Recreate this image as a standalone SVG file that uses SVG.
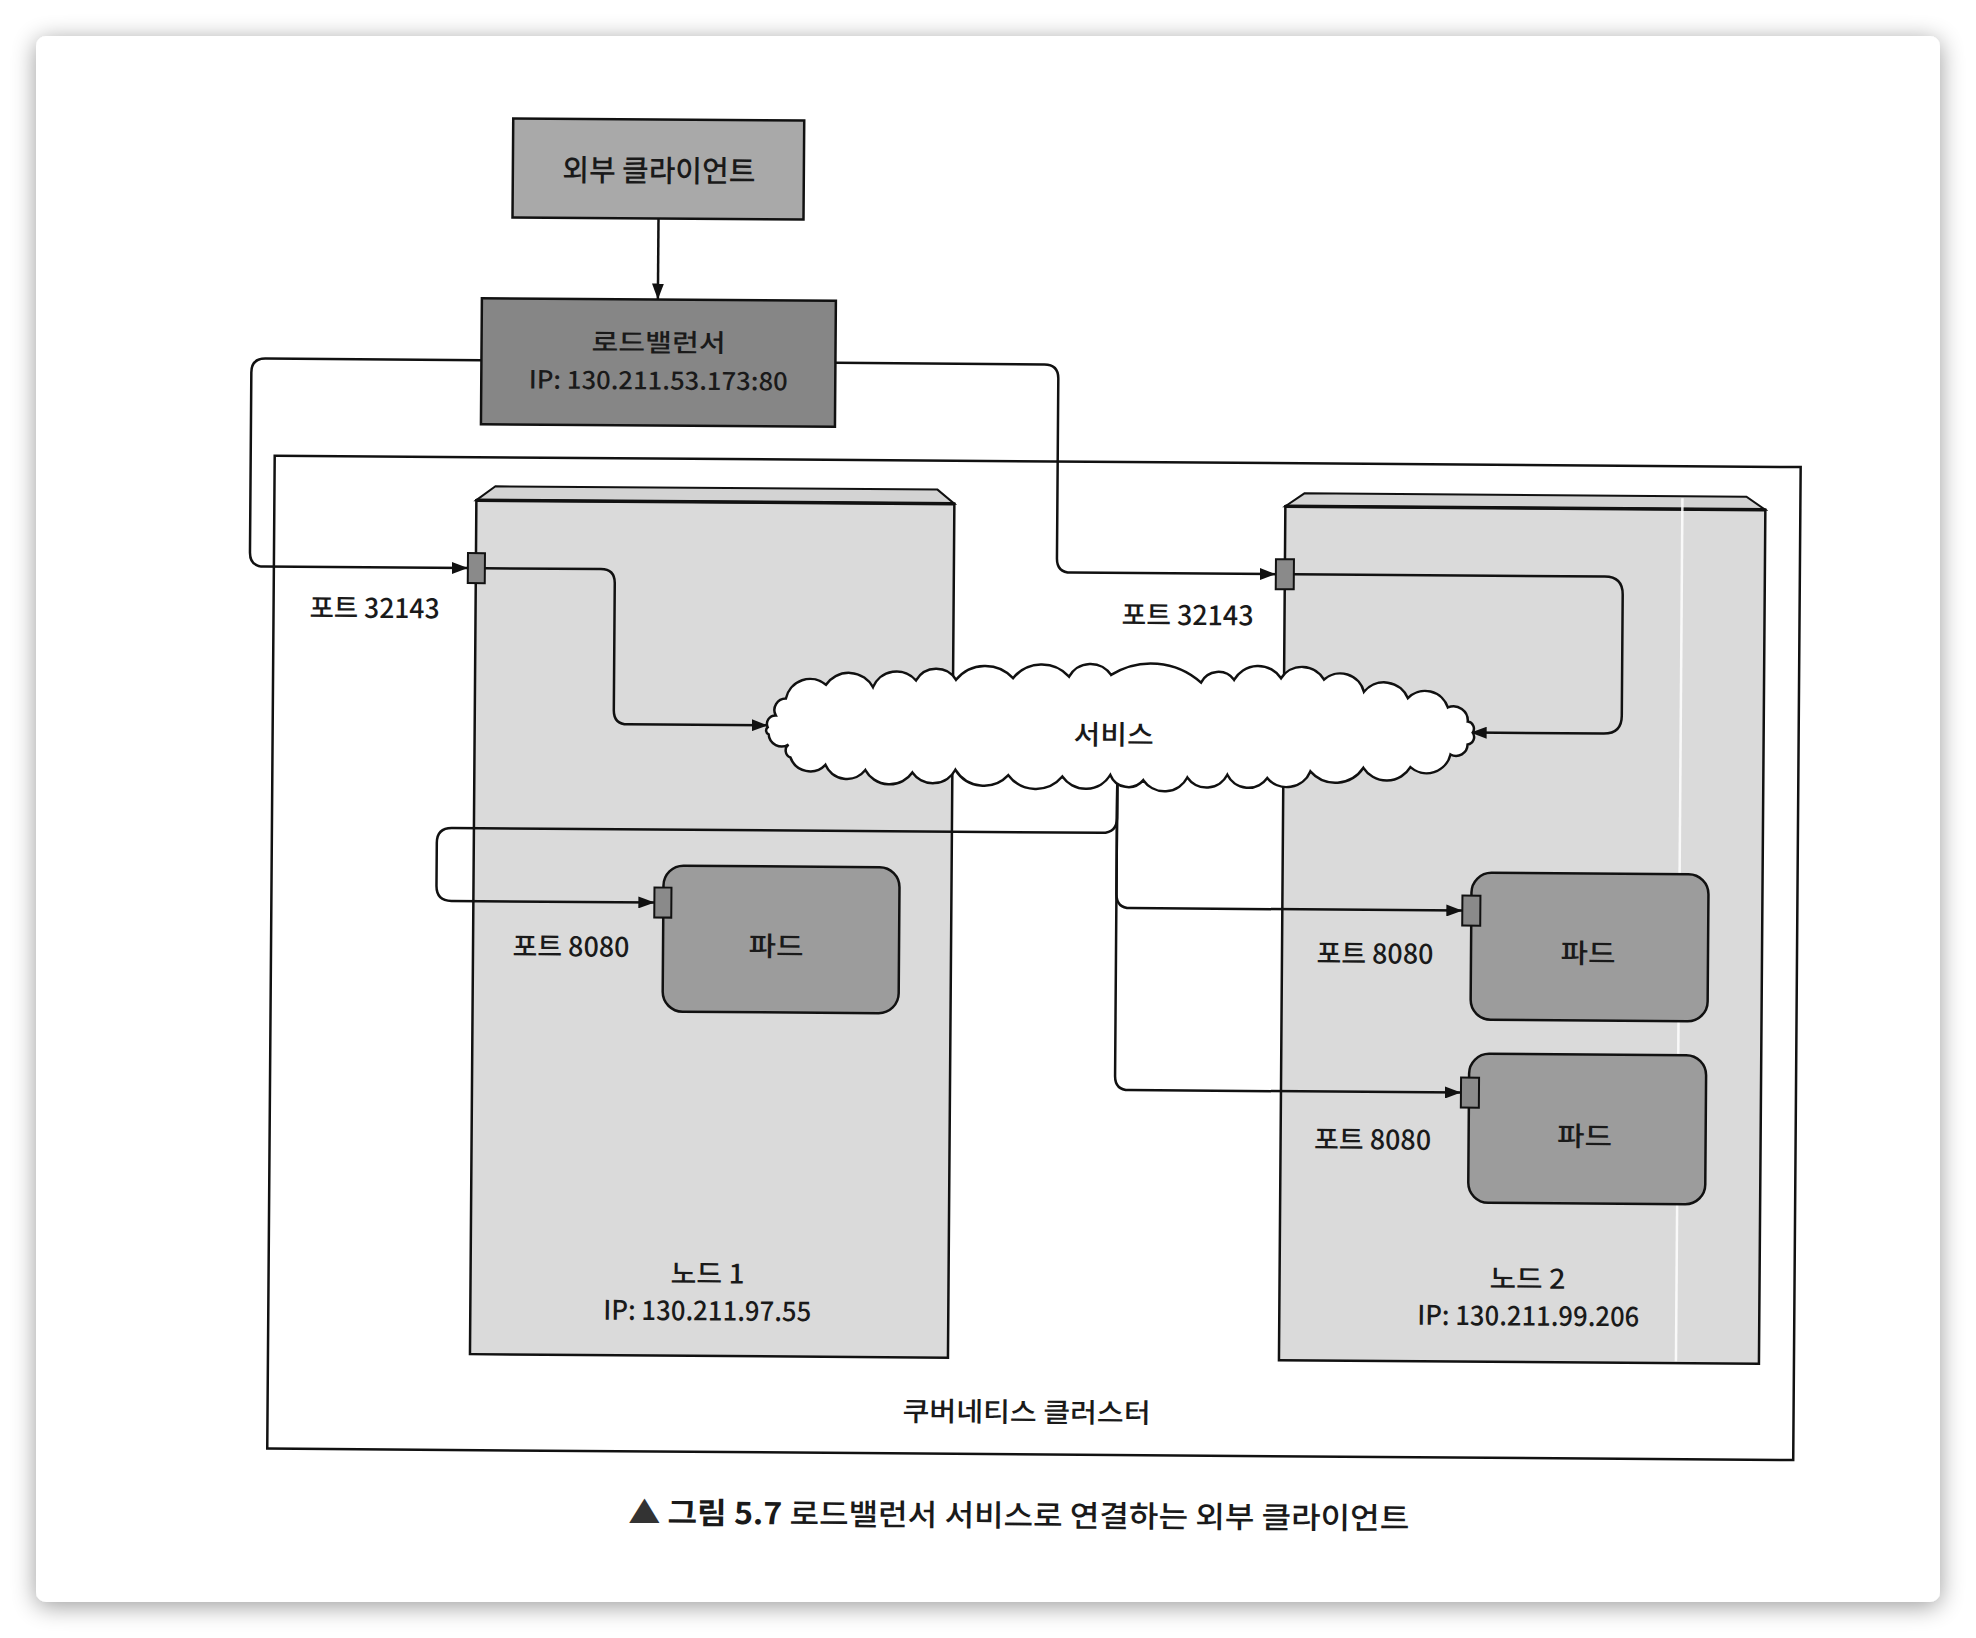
<svg xmlns="http://www.w3.org/2000/svg" width="1976" height="1638" viewBox="0 0 1976 1638">
<defs>
<filter id="shadow" x="-5%" y="-5%" width="110%" height="110%">
<feGaussianBlur in="SourceAlpha" stdDeviation="12"/>
<feOffset dy="4"/>
<feComponentTransfer><feFuncA type="linear" slope="0.4"/></feComponentTransfer>
<feMerge><feMergeNode/><feMergeNode in="SourceGraphic"/></feMerge>
</filter>
<marker id="arr" markerUnits="userSpaceOnUse" markerWidth="16" markerHeight="12" refX="16" refY="6" orient="auto"><path d="M0,0 L16,6 L0,12 z" fill="#111"/></marker>
</defs>
<style>
.t{font-family:"Noto Sans CJK KR","Noto Sans",sans-serif;fill:#1a1a1a;text-anchor:middle;dominant-baseline:central;font-size:27px;font-weight:500}
.ln{fill:none;stroke:#111;stroke-width:2.5}
.body{fill:#dadada;stroke:#111;stroke-width:2.5}
.bevel{fill:#d3d3d3;stroke:#111;stroke-width:2}
.pod{fill:#9c9c9c;stroke:#111;stroke-width:2.5}
.port{fill:#8a8a8a;stroke:#111;stroke-width:2}
.box{stroke:#111;stroke-width:2.5}
</style>
<rect width="1976" height="1638" fill="#ffffff"/>
<rect x="36" y="36" width="1904" height="1566" rx="10" fill="#ffffff" filter="url(#shadow)"/>
<g transform="rotate(0.43 988 819)">
<g id="cluster">
<rect x="272" y="461" width="1526" height="993" fill="none" stroke="#111" stroke-width="2.5"/>
<text class="t" x="1031" y="1410" textLength="248" lengthAdjust="spacingAndGlyphs">쿠버네티스 클러스터</text>
</g>
<g id="node1">
<polygon class="bevel" points="474,504 493,490 935,490 952,504"/>
<rect class="body" x="474" y="504" width="478" height="854"/>
<line x1="474" y1="504" x2="952" y2="504" stroke="#111" stroke-width="3.5"/>
<text class="t" x="711" y="1274" textLength="74" lengthAdjust="spacingAndGlyphs">노드 1</text>
<text class="t" x="711" y="1311" textLength="208" lengthAdjust="spacingAndGlyphs">IP: 130.211.97.55</text>
</g>
<g id="node2">
<polygon class="bevel" points="1283,504 1302,491 1744,491 1763,504"/>
<rect class="body" x="1283" y="504" width="480" height="854"/>
<line x1="1283" y1="504" x2="1763" y2="504" stroke="#111" stroke-width="3.5"/>
<line x1="1680" y1="493" x2="1680" y2="1356" stroke="#ffffff" stroke-width="2.5" opacity="0.85"/>
<text class="t" x="1531" y="1273" textLength="76" lengthAdjust="spacingAndGlyphs">노드 2</text>
<text class="t" x="1532" y="1310" textLength="222" lengthAdjust="spacingAndGlyphs">IP: 130.211.99.206</text>
</g>
<g id="pod1">
<rect class="pod" x="664" y="868" width="236" height="146" rx="20"/>
<text class="t" x="777" y="946" textLength="55" lengthAdjust="spacingAndGlyphs">파드</text>
</g>
<g id="pod2">
<rect class="pod" x="1472" y="869" width="237" height="147" rx="20"/>
<text class="t" x="1589" y="947" textLength="55" lengthAdjust="spacingAndGlyphs">파드</text>
</g>
<g id="pod3">
<rect class="pod" x="1471" y="1050" width="237" height="149" rx="20"/>
<text class="t" x="1587" y="1130" textLength="55" lengthAdjust="spacingAndGlyphs">파드</text>
</g>
<g id="labels">
<text class="t" x="373" y="611" textLength="130" lengthAdjust="spacingAndGlyphs">포트 32143</text>
<text class="t" x="1186" y="612" textLength="132" lengthAdjust="spacingAndGlyphs">포트 32143</text>
<text class="t" x="572" y="948" textLength="117" lengthAdjust="spacingAndGlyphs">포트 8080</text>
<text class="t" x="1376" y="949" textLength="117" lengthAdjust="spacingAndGlyphs">포트 8080</text>
<text class="t" x="1375" y="1135" textLength="117" lengthAdjust="spacingAndGlyphs">포트 8080</text>
</g>
<g id="connectors">
<path class="ln" d="M654,221 V302" marker-end="url(#arr)"/>
<path class="ln" d="M478,364 H262 Q248,364 248,378 V558 Q248,572 262,572 H466" marker-end="url(#arr)"/>
<path class="ln" d="M483,572 H599 Q613,572 613,586 V713 Q613,727 627,727 H767" marker-end="url(#arr)"/>
<path class="ln" d="M832,364 H1041 Q1055,364 1055,378 V558 Q1055,572 1069,572 H1274" marker-end="url(#arr)"/>
<path class="ln" d="M1292,572 H1603 Q1621,572 1621,590 V711 Q1621,729 1603,729 H1470" marker-end="url(#arr)"/>
<path class="ln" d="M1117,775 V817 Q1117,832 1102,832 H452 Q437,832 437,847 V890 Q437,905 452,905 H655" marker-end="url(#arr)"/>
<path class="ln" d="M1117,775 V893 Q1117,907 1131,907 H1463" marker-end="url(#arr)"/>
<path class="ln" d="M1117,775 V1075 Q1117,1089 1131,1089 H1463" marker-end="url(#arr)"/>
</g>
<g id="ports">
<rect class="port" x="466" y="557" width="17" height="30"/>
<rect class="port" x="1274" y="557" width="18" height="30"/>
<rect class="port" x="655" y="890" width="17" height="30"/>
<rect class="port" x="1463" y="892" width="18" height="30"/>
<rect class="port" x="1463" y="1074" width="18" height="30"/>
</g>
<g id="service">
<path d="M767,729 A8.5,8.5 0 0 1 775,717 A11.5,11.5 0 0 1 785,700 A24.7,24.7 0 0 1 825,686 A27.7,27.7 0 0 1 872,688 A25.6,25.6 0 0 1 915,681 A23.4,23.4 0 0 1 955,680 A37.7,37.7 0 0 1 1012,678 A36.7,36.7 0 0 1 1068,676 A24.6,24.6 0 0 1 1110,674 A75,75 0 0 1 1200,681 A19.4,19.4 0 0 1 1233,678 A27.7,27.7 0 0 1 1280,676 A25.3,25.3 0 0 1 1323,677 A24.5,24.5 0 0 1 1363,689 A26,26 0 0 1 1407,695 A24,24 0 0 1 1447,704 A14.3,14.3 0 0 1 1467,718 A7.1,7.1 0 0 1 1472,729 A7.6,7.6 0 0 1 1467,741 A11.5,11.5 0 0 1 1450,751 A24.6,24.6 0 0 1 1410,764 A27.7,27.7 0 0 1 1363,765 A33.5,33.5 0 0 1 1310,769 A25.6,25.6 0 0 1 1267,776 A23.4,23.4 0 0 1 1227,773 A23.4,23.4 0 0 1 1187,776 A25.8,25.8 0 0 1 1143,779 A19.5,19.5 0 0 1 1110,774 A28.7,28.7 0 0 1 1062,776 A34.5,34.5 0 0 1 1008,775 A33.5,33.5 0 0 1 955,770 A25.3,25.3 0 0 1 912,773 A27.7,27.7 0 0 1 865,771 A23.5,23.5 0 0 1 825,766 A21,21 0 0 1 790,759 A7.6,7.6 0 0 1 788,746 A13.1,13.1 0 0 1 768,736 A4.1,4.1 0 0 1 767,729 Z" fill="#ffffff" stroke="#111" stroke-width="2.5"/>
<text class="t" x="1113" y="732" textLength="80" lengthAdjust="spacingAndGlyphs">서비스</text>
</g>
<g id="client">
<rect class="box" x="508" y="122" width="291" height="99" fill="#a9a9a9"/>
<text class="t" x="654" y="171" style="font-size:30px" textLength="193" lengthAdjust="spacingAndGlyphs">외부 클라이언트</text>
</g>
<g id="loadbalancer">
<rect class="box" x="478" y="302" width="354" height="126" fill="#868686"/>
<text class="t" x="655" y="343" style="font-size:25px" textLength="134" lengthAdjust="spacingAndGlyphs">로드밸런서</text>
<text class="t" x="655" y="381" style="font-size:25px" textLength="259" lengthAdjust="spacingAndGlyphs">IP: 130.211.53.173:80</text>
</g>
<g id="caption">
<text class="t" x="1024" y="1513" style="font-size:30px" textLength="781" lengthAdjust="spacingAndGlyphs"><tspan fill="#333">▲</tspan> <tspan font-weight="700">그림 5.7</tspan> 로드밸런서 서비스로 연결하는 외부 클라이언트</text>
</g>
</g>
</svg>
